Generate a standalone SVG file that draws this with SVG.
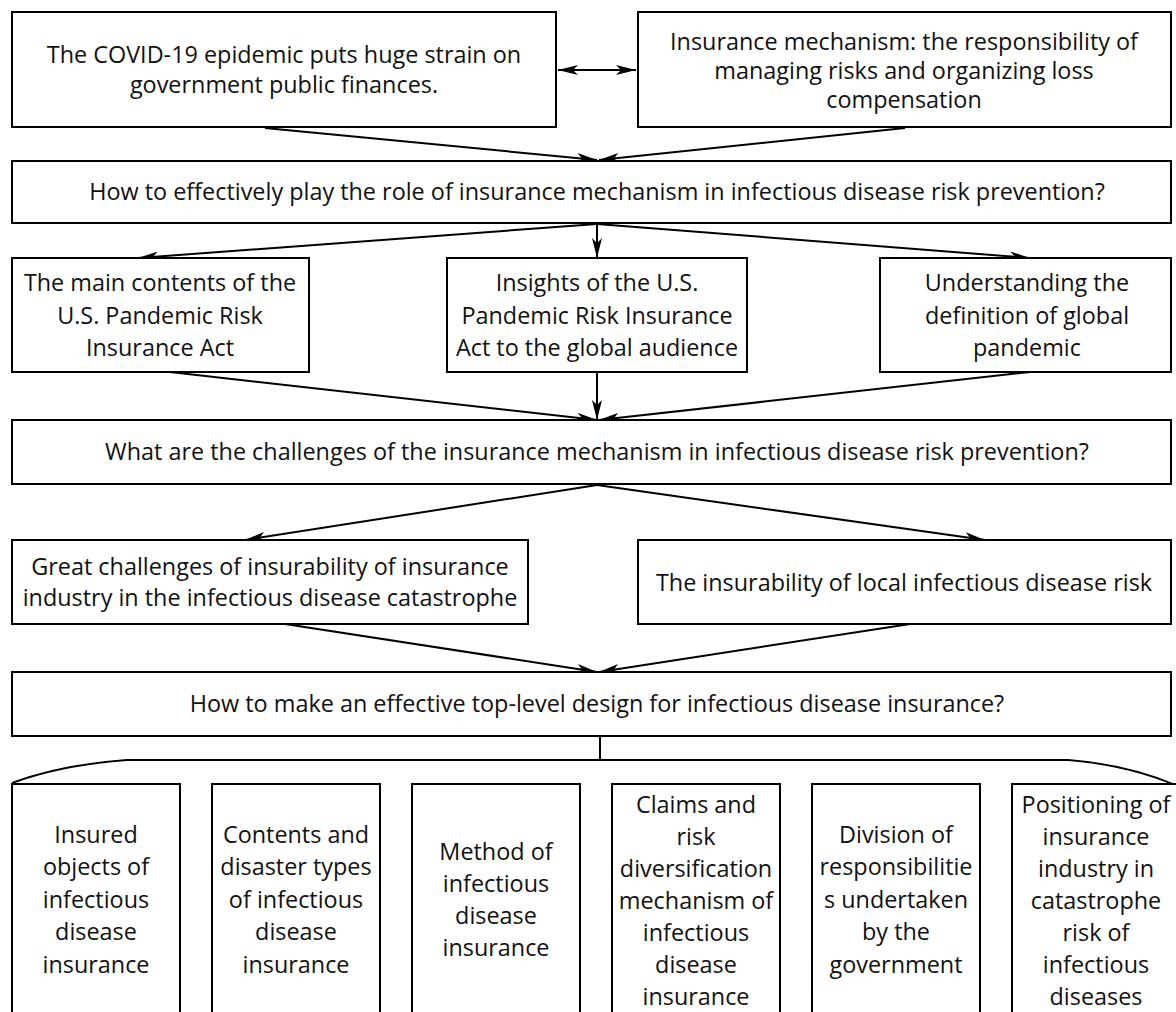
<svg xmlns="http://www.w3.org/2000/svg" width="1176" height="1012" viewBox="0 0 1176 1012">
<style>
.b{fill:#fff;stroke:#000;stroke-width:2}
text{font-family:"Open Sans","Liberation Sans",sans-serif;font-size:23.4px;fill:#111;text-anchor:middle}
.c{fill:none;stroke:#000;stroke-width:2}
</style>
<defs>
<marker id="a" viewBox="0 0 20 10" refX="20" refY="5" markerWidth="20" markerHeight="10" markerUnits="userSpaceOnUse" orient="auto-start-reverse"><path d="M0,0 L20,5 L0,10 L5,5 Z" fill="#000"/></marker>
</defs>
<rect width="1176" height="1012" fill="#fff"/>
<g id="connectors">
<line class="c" x1="558" y1="70" x2="636" y2="70" marker-start="url(#a)" marker-end="url(#a)"/>
<line class="c" x1="265" y1="128" x2="597" y2="160" marker-end="url(#a)"/>
<line class="c" x1="905" y1="128" x2="599" y2="160" marker-end="url(#a)"/>
<line class="c" x1="597" y1="224" x2="138" y2="258" marker-end="url(#a)"/>
<line class="c" x1="597" y1="224" x2="597" y2="258" marker-end="url(#a)"/>
<line class="c" x1="597" y1="224" x2="1030" y2="258" marker-end="url(#a)"/>
<line class="c" x1="170" y1="372" x2="597" y2="420" marker-end="url(#a)"/>
<line class="c" x1="597" y1="372" x2="597" y2="420" marker-end="url(#a)"/>
<line class="c" x1="1030" y1="372" x2="599" y2="420" marker-end="url(#a)"/>
<line class="c" x1="597" y1="485" x2="245" y2="540" marker-end="url(#a)"/>
<line class="c" x1="597" y1="485" x2="985" y2="540" marker-end="url(#a)"/>
<line class="c" x1="285" y1="624" x2="597" y2="672" marker-end="url(#a)"/>
<line class="c" x1="910" y1="624" x2="599" y2="672" marker-end="url(#a)"/>
<line class="c" x1="600" y1="737" x2="600" y2="760"/>
<path class="c" d="M12,783 Q60,765 127,760 L1068,760 Q1130,765 1180,787"/>
</g>
<g id="n1"><rect class="b" x="12" y="12" width="544" height="115"/>
<text x="284" y="63">The COVID-19 epidemic puts huge strain on</text><text x="284" y="93">government public finances.</text></g>
<g id="n2"><rect class="b" x="638" y="12" width="533" height="115"/>
<text x="904" y="50">Insurance mechanism: the responsibility of</text><text x="904" y="79">managing risks and organizing loss</text><text x="904" y="108">compensation</text></g>
<g id="n3"><rect class="b" x="12" y="161" width="1159" height="62"/>
<text x="597" y="200">How to effectively play the role of insurance mechanism in infectious disease risk prevention?</text></g>
<g id="n4"><rect class="b" x="12" y="258" width="297" height="114"/>
<text x="160" y="291">The main contents of the</text><text x="160" y="324">U.S. Pandemic Risk</text><text x="160" y="356">Insurance Act</text></g>
<g id="n5"><rect class="b" x="447" y="258" width="300" height="114"/>
<text x="597" y="291">Insights of the U.S.</text><text x="597" y="324">Pandemic Risk Insurance</text><text x="597" y="356">Act to the global audience</text></g>
<g id="n6"><rect class="b" x="880" y="258" width="291" height="114"/>
<text x="1027" y="291">Understanding the</text><text x="1027" y="324">definition of global</text><text x="1027" y="356">pandemic</text></g>
<g id="n7"><rect class="b" x="12" y="420" width="1159" height="64"/>
<text x="597" y="460">What are the challenges of the insurance mechanism in infectious disease risk prevention?</text></g>
<g id="n8"><rect class="b" x="12" y="540" width="516" height="84"/>
<text x="270" y="575">Great challenges of insurability of insurance</text><text x="270" y="606">industry in the infectious disease catastrophe</text></g>
<g id="n9"><rect class="b" x="638" y="540" width="533" height="84"/>
<text x="904" y="591">The insurability of local infectious disease risk</text></g>
<g id="n10"><rect class="b" x="12" y="672" width="1159" height="64"/>
<text x="597" y="712">How to make an effective top-level design for infectious disease insurance?</text></g>
<g id="n11"><rect class="b" x="12" y="784" width="168" height="240"/>
<text x="96" y="843">Insured</text><text x="96" y="875">objects of</text><text x="96" y="908">infectious</text><text x="96" y="940">disease</text><text x="96" y="973">insurance</text></g>
<g id="n12"><rect class="b" x="212" y="784" width="168" height="240"/>
<text x="296" y="843">Contents and</text><text x="296" y="875">disaster types</text><text x="296" y="908">of infectious</text><text x="296" y="940">disease</text><text x="296" y="973">insurance</text></g>
<g id="n13"><rect class="b" x="412" y="784" width="168" height="240"/>
<text x="496" y="860">Method of</text><text x="496" y="892">infectious</text><text x="496" y="924">disease</text><text x="496" y="956">insurance</text></g>
<g id="n14"><rect class="b" x="612" y="784" width="168" height="240"/>
<text x="696" y="813">Claims and</text><text x="696" y="845">risk</text><text x="696" y="877">diversification</text><text x="696" y="909">mechanism of</text><text x="696" y="941">infectious</text><text x="696" y="973">disease</text><text x="696" y="1005">insurance</text></g>
<g id="n15"><rect class="b" x="812" y="784" width="168" height="240"/>
<text x="896" y="843">Division of</text><text x="896" y="875">responsibilitie</text><text x="896" y="908">s undertaken</text><text x="896" y="940">by the</text><text x="896" y="973">government</text></g>
<g id="n16"><rect class="b" x="1012" y="784" width="168" height="240"/>
<text x="1096" y="813">Positioning of</text><text x="1096" y="845">insurance</text><text x="1096" y="877">industry in</text><text x="1096" y="909">catastrophe</text><text x="1096" y="941">risk of</text><text x="1096" y="973">infectious</text><text x="1096" y="1005">diseases</text></g>
</svg>
